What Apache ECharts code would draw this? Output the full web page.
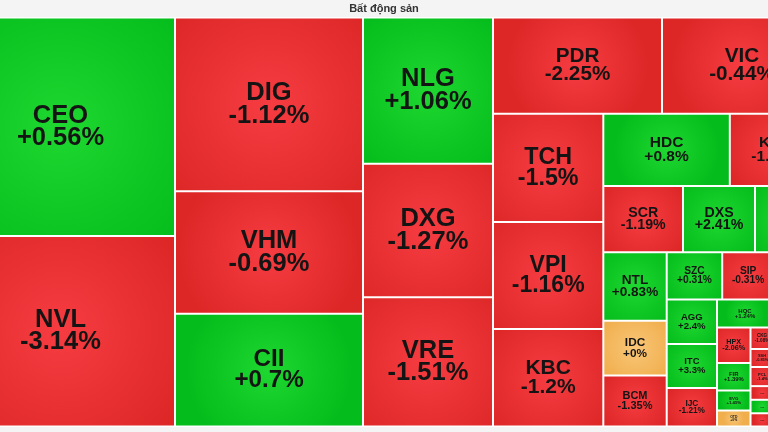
<!DOCTYPE html>
<html>
<head>
<meta charset="utf-8">
<script src="https://cdn.jsdelivr.net/npm/echarts@6/dist/echarts.min.js"></script>
<style>
html,body{margin:0;padding:0;background:#f4f4f4;}
#c{width:768px;height:432px;}
</style>
</head>
<body>
<div id="c"></div>
<script>
const chartTitle = 'Bất động sản';

// Tickers, in the order they appear in the squarified layout
const tickers = ['CEO','NVL','DIG','VHM','CII','NLG','DXG','VRE','PDR','VIC',
  'TCH','VPI','KBC','HDC','KDH','SCR','DXS','HDG','NTL','IDC',
  'BCM','SZC','SIP','NBB','AGG','ITC','IJC','HQC','LHG','HPX',
  'FIR','EVG','OTD','CKG','TDC','HAR','SSH','QCG','LDG','PCL',
  'CRE','TIG','HTN','NTC','D2D','SJS','NHA','VRC','PTL','API'];

// Size weights
const weights = [50037,43625,32674,23030,21188,19006,17368,16796,16258,15392,
  11945,11802,10754,9146,6666,5276,4766,4435,4349,3468,
  3233,2625,2450,2270,2238,2213,1937,1568,1372,1189,
  921,670,536,495,525,517,414,440,433,448,
  320,316,310,228,245,227,560,540,530,530];

// Price change, percent
const changes = [0.56,-3.14,-1.12,-0.69,0.7,1.06,-1.27,-1.51,-2.25,-0.44,
  -1.5,-1.16,-1.2,0.8,-1.28,-1.19,2.41,1.1,0.83,0,
  -1.35,0.31,-0.31,0.52,2.4,3.3,-1.21,1.24,-0.45,-2.06,
  1.39,1.45,0,-1.08,-0.62,0.98,-0.85,-1.9,-1.3,-1.4,
  -2.1,0.95,-1.6,-0.9,0.6,0,1.2,-0.8,0,-1.5];

// How many consecutive tickers share one strip of the squarified layout
const strips = [2,3,3,2,3,2,3,3,3,3,2,4,3,3,4,3,4];

const FONT = 'Liberation Sans, Arial, Helvetica, sans-serif';

function fmtChange(v) {
  return (v < 0 ? '-' : '+') + Math.abs(v) + '%';
}
function cellColor(v) {
  const c = v > 0 ? ['#1fd730', '#04bc1b'] : v < 0 ? ['#f63c41', '#dd2727'] : ['#f9c677', '#f0ae4d'];
  return { type: 'radial', x: 0.5, y: 0.5, r: 0.75,
    colorStops: [{ offset: 0, color: c[0] }, { offset: 1, color: c[1] }] };
}

let labelInfo = {};

function leaf(i) {
  const name = tickers[i];
  const item = {
    name: name,
    value: weights[i],
    itemStyle: { color: cellColor(changes[i]), borderWidth: 1, borderColor: '#fff' }
  };
  const li = labelInfo[name];
  if (li) {
    item.label = { fontSize: li.fs, lineHeight: li.lh, formatter: li.text };
  } else {
    item.label = { formatter: name + '\n' + fmtChange(changes[i]) };
  }
  return item;
}

const starts = [];
(function () { let s = 0; strips.forEach(n => { starts.push(s); s += n; }); })();

function stripChildren(k) {
  const arr = [];
  for (let i = starts[k]; i < starts[k] + strips[k]; i++) arr.push(leaf(i));
  return arr;
}
function build(k) {
  if (k === strips.length - 1) return stripChildren(k);
  return [
    { name: '', children: stripChildren(k) },
    { name: '', children: build(k + 1) }
  ];
}

const chart = echarts.init(document.getElementById('c'), null, { renderer: 'canvas' });

function makeOption() {
  return {
    backgroundColor: '#f4f4f4',
    animation: false,
    title: {
      text: chartTitle, left: 'center', top: 3, padding: 0,
      textStyle: { fontSize: 11, fontWeight: 'bold', color: '#333', fontFamily: FONT }
    },
    series: [{
      type: 'treemap',
      left: -54, top: 17.5, width: 876, height: 409,
      roam: false, nodeClick: false, sort: false, squareRatio: 0.75,
      breadcrumb: { show: false },
      itemStyle: { borderWidth: 0, gapWidth: 0, borderColor: '#fff' },
      upperLabel: { show: false },
      label: {
        show: true, position: 'inside', align: 'center', verticalAlign: 'middle',
        color: '#141414', fontWeight: 'bold', fontFamily: FONT, padding: 0,
        overflow: 'truncate', fontSize: 12
      },
      emphasis: { disabled: true },
      data: build(0)
    }]
  };
}

chart.setOption(makeOption());

// size the labels from the laid-out cells
try {
  const d = chart.getModel().getSeriesByIndex(0).getData();
  const dims = {};
  for (let i = 0; i < d.count(); i++) {
    const l = d.getItemLayout(i);
    const n = d.getName(i);
    if (l && n) dims[n] = l;
  }
  tickers.forEach((t, i) => {
    const l = dims[t];
    if (!l) return;
    const m = Math.min(l.width, l.height);
    let fs = Math.max(3, Math.min(25.5, 0.215 * m));
    let text = t + '\n' + fmtChange(changes[i]);
    if (m < 14.5) { text = '...'; fs = 5; }
    labelInfo[t] = { fs: Math.round(fs * 10) / 10, lh: Math.round(fs * 0.88 * 10) / 10, text: text };
  });
} catch (e) {
  tickers.forEach((t, i) => {
    const fs = Math.max(3, Math.min(25.5, 0.2 * Math.sqrt(weights[i])));
    labelInfo[t] = { fs: fs, lh: fs * 0.88, text: t + '\n' + fmtChange(changes[i]) };
  });
}
chart.setOption(makeOption(), true);
</script>
</body>
</html>
